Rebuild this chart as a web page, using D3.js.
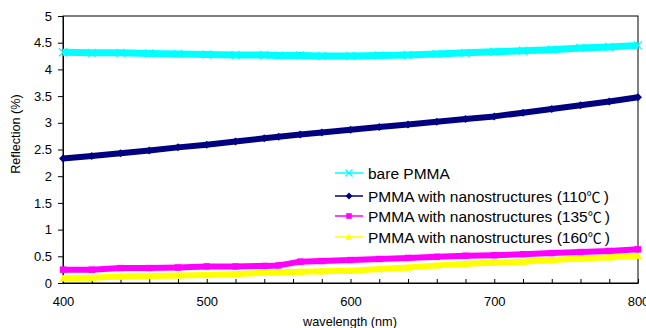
<!DOCTYPE html>
<html><head><meta charset="utf-8">
<script src="https://cdn.jsdelivr.net/npm/d3@7"></script>
<style>body{margin:0;background:#fff}svg{display:block;font-family:"Liberation Sans",Arial,sans-serif}</style>
</head><body><svg id="c" width="646" height="328"></svg>
<script>
const wavelengths = [400,420,440,460,480,500,520,540,550,565,580,600,620,640,660,680,700,720,740,760,780,800];
const bare   = [4.32,4.31,4.31,4.30,4.29,4.28,4.27,4.27,4.26,4.26,4.25,4.25,4.26,4.27,4.29,4.31,4.33,4.35,4.37,4.40,4.42,4.45];
const s110   = [2.33,2.38,2.43,2.48,2.54,2.59,2.65,2.71,2.74,2.78,2.82,2.87,2.92,2.97,3.02,3.07,3.12,3.19,3.26,3.33,3.40,3.48];
const s135   = [0.25,0.25,0.28,0.28,0.29,0.31,0.31,0.32,0.33,0.40,0.41,0.43,0.45,0.47,0.49,0.51,0.52,0.54,0.56,0.58,0.60,0.63];
const s160   = [0.09,0.10,0.12,0.13,0.14,0.15,0.17,0.19,0.20,0.21,0.22,0.23,0.26,0.29,0.33,0.36,0.38,0.40,0.43,0.46,0.48,0.51];
const seriesNames = ["bare PMMA","PMMA with nanostructures (110","PMMA with nanostructures (135","PMMA with nanostructures (160"];
const seriesUnit = ["","\u2103",  "\u2103", "\u2103"];
const seriesColors = ["#00ffff","#000080","#ff00ff","#ffff00"];
const seriesShapes = ["cross","diamond","square","triangle"];
const xTicks = [400,500,600,700,800];
const yTicks = [0,0.5,1,1.5,2,2.5,3,3.5,4,4.5,5];

const svg = d3.select("#c");
const x = d3.scaleLinear().domain([400,800]).range([63,638]);
const y = d3.scaleLinear().domain([0,5]).range([283,16]);
const data = [bare,s110,s135,s160];

svg.append("rect").attr("x",63).attr("y",16).attr("width",575).attr("height",267)
  .attr("fill","none").attr("stroke","#000").attr("stroke-width",1);

const ya = svg.append("g").attr("transform","translate(63,0)")
  .call(d3.axisLeft(y).tickValues(yTicks).tickSize(5).tickPadding(6).tickFormat(d3.format("~g")));
ya.select(".domain").attr("stroke","#000");
ya.selectAll("text").attr("font-size",13).attr("fill","#000").attr("font-family","Liberation Sans, Arial, sans-serif");

const xa = svg.append("g").attr("transform","translate(0,283)")
  .call(d3.axisBottom(x).tickValues(d3.range(400,801,20)).tickSizeInner(-4).tickSizeOuter(0).tickFormat(""));
xa.select(".domain").attr("stroke","#000");
const xl = svg.append("g").attr("transform","translate(0,283)")
  .call(d3.axisBottom(x).tickValues(xTicks).tickSize(0).tickPadding(14));
xl.select(".domain").remove();
xl.selectAll("text").attr("font-size",13).attr("fill","#000").attr("font-family","Liberation Sans, Arial, sans-serif");

svg.append("text").attr("x",350).attr("y",326).attr("text-anchor","middle").attr("font-size",12.7).text("wavelength (nm)");
svg.append("text").attr("transform","translate(20,134) rotate(-90)").attr("text-anchor","middle").attr("font-size",12.7).text("Reflection (%)");

function marker(g, shape, color, cx, cy, s){
  if(shape==="cross"){
    g.append("path").attr("d",`M${cx-s},${cy-s}L${cx+s},${cy+s}M${cx-s},${cy+s}L${cx+s},${cy-s}`).attr("stroke",color).attr("stroke-width",1.3);
  } else if(shape==="diamond"){
    g.append("path").attr("d",`M${cx},${cy-s}L${cx+s},${cy}L${cx},${cy+s}L${cx-s},${cy}Z`).attr("fill",color);
  } else if(shape==="square"){
    g.append("rect").attr("x",cx-s*0.8).attr("y",cy-s*0.8).attr("width",s*1.6).attr("height",s*1.6).attr("fill",color);
  } else {
    g.append("path").attr("d",`M${cx},${cy-s}L${cx+s},${cy+s*0.8}L${cx-s},${cy+s*0.8}Z`).attr("fill",color);
  }
}

const plot = svg.append("g");
const line = d3.line().x((d,i)=>x(wavelengths[i])).y(d=>y(d));
[0,1,3,2].forEach(k=>{
  plot.append("path").datum(data[k]).attr("d",line).attr("fill","none")
    .attr("stroke",seriesColors[k]).attr("stroke-width",k===0?7:6).attr("stroke-linejoin","round");
  const mg = plot.append("g");
  data[k].forEach((v,i)=>marker(mg, seriesShapes[k], seriesColors[k], x(wavelengths[i]), y(v), 4));
});

const legY = [173,196,216,237];
seriesNames.forEach((n,k)=>{
  const g = svg.append("g");
  g.append("line").attr("x1",335).attr("x2",363).attr("y1",legY[k]).attr("y2",legY[k]).attr("stroke",seriesColors[k]).attr("stroke-width",1.5);
  marker(g, seriesShapes[k], seriesColors[k], 349, legY[k], 3.5);
  const t = g.append("text").attr("x",368).attr("y",legY[k]).attr("dy","0.36em").attr("font-size",15.5).attr("fill","#000").text(n);
  if(seriesUnit[k]){
    t.append("tspan").attr("font-family","Noto Sans CJK SC").attr("font-size",14).text(seriesUnit[k]);
    t.append("tspan").text("\u2009)");
  }
});
</script></body></html>
